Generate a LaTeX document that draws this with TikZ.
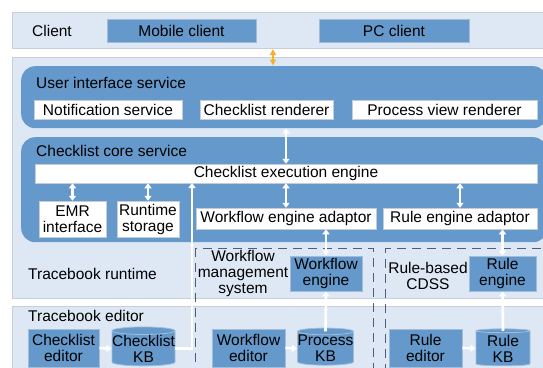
\documentclass[tikz,border=0pt]{standalone}
\usepackage{fontspec}
\setmainfont{Liberation Sans}
\usetikzlibrary{shapes.geometric,arrows.meta,calc}

\definecolor{bandfill}{HTML}{DEE8F4}
\definecolor{bandline}{HTML}{C8CFDA}
\definecolor{serviceblue}{HTML}{6599CC}
\definecolor{boxline}{HTML}{A3BDD9}
\definecolor{whiteline}{HTML}{C4CCD8}
\definecolor{dashline}{HTML}{4D5D7D}
\definecolor{orangetip}{HTML}{F5B030}

\tikzset{
	band/.style={draw=bandline, fill=bandfill, line width=0.8pt, anchor=north west, inner sep=0pt},
	service/.style={fill=serviceblue, rounded corners=14pt, anchor=north west, inner sep=0pt},
	bluebox/.style={fill=serviceblue, draw=boxline, line width=0.8pt, inner sep=0pt, align=center},
	whitebox/.style={fill=white, draw=whiteline, line width=0.5pt, inner sep=0pt, align=center},
	kb/.style={cylinder, shape border rotate=90, aspect=0.12, fill=serviceblue, draw=boxline, line width=0.8pt, inner sep=0pt, align=center},
	frame/.style={draw=dashline, line width=1.2pt, dash pattern=on 9pt off 6pt, anchor=north west, inner sep=0pt},
	lbl/.style={inner sep=0pt, align=center},
	dbl/.style={white, line width=2.6pt, {Triangle[width=7pt,length=5pt]}-{Triangle[width=7pt,length=5pt]}},
	arr/.style={white, line width=2.6pt, -{Triangle[width=7pt,length=5pt]}},
	orangearr/.style={orangetip, line width=2pt, {Triangle[width=6pt,length=6pt]}-{Triangle[width=6pt,length=6pt]}}
}

\begin{document}
\begin{tikzpicture}[x=1pt, y=-1pt, font=\fontsize{15.5}{16}\selectfont]
	\useasboundingbox (0,0) rectangle (543,367);
	\clip (0,0) rectangle (543,367);
	
	% layers
	\node[band, minimum width=548pt, minimum height=36pt] (clientband) at (12,12) {};
	\node[band, minimum width=548pt, minimum height=241pt] (runtime) at (12,57) {};
	\node[band, minimum width=548pt, minimum height=80pt] (editor) at (12,306) {};
	\node[lbl, anchor=west] (runtimelbl) at (28,274) {Tracebook runtime};
	\node[lbl, anchor=west] (editorlbl) at (28,316) {Tracebook editor};
	
	% external systems
	\node[frame, minimum width=178pt, minimum height=140pt] (wfms) at (195,248) {};
	\node[frame, minimum width=180pt, minimum height=140pt] (cdss) at (385,248) {};
	\node[lbl] (wfmslbl) at (243,273) {Workflow\\management\\system};
	\node[lbl] (cdsslbl) at (428,276) {Rule-based\\CDSS};
	
	% client
	\node[lbl] (clientlbl) at (52,30.5) {Client};
	\node[bluebox, minimum width=149pt, minimum height=23pt] (mobile) at (181.5,30.5) {Mobile client};
	\node[bluebox, minimum width=150pt, minimum height=23pt] (pc) at (394,30.5) {PC client};
	
	% user interface service
	\node[service, minimum width=526pt, minimum height=62pt] (ui) at (21,66) {};
	\node[lbl, anchor=west] (uilbl) at (36,83) {User interface service};
	\node[whitebox, minimum width=148pt, minimum height=19pt] (notif) at (108,109.5) {Notification service};
	\node[whitebox, minimum width=133pt, minimum height=19pt] (renderer) at (266.5,109.5) {Checklist renderer};
	\node[whitebox, minimum width=185pt, minimum height=19pt] (procview) at (444.5,109.5) {Process view renderer};
	
	% checklist core service
	\node[service, minimum width=526pt, minimum height=105pt] (core) at (21,137) {};
	\node[lbl, anchor=west] (corelbl) at (36,151) {Checklist core service};
	\node[whitebox, minimum width=502pt, minimum height=19pt] (engine) at (286,173.5) {Checklist execution engine};
	\node[whitebox, minimum width=67pt, minimum height=36pt] (emr) at (72.5,219) {EMR\\interface};
	\node[whitebox, minimum width=62pt, minimum height=36pt] (storage) at (148,219) {Runtime\\storage};
	\node[whitebox, minimum width=180pt, minimum height=21pt] (wfadaptor) at (286,218.5) {Workflow engine adaptor};
	\node[whitebox, minimum width=154pt, minimum height=21pt] (ruleadaptor) at (460,218.5) {Rule engine adaptor};
	
	% engines
	\node[bluebox, minimum width=72pt, minimum height=35pt] (wfengine) at (326,273.5) {Workflow\\engine};
	\node[bluebox, minimum width=67pt, minimum height=35pt] (ruleengine) at (502.5,273.5) {Rule\\engine};
	
	% editors and knowledge bases
	\node[bluebox, minimum width=71pt, minimum height=38pt] (cleditor) at (63.5,348) {Checklist\\editor};
	\node[kb, minimum width=63pt, minimum height=37pt] (clkb) at (143.5,348.5) {Checklist\\KB};
	\node[bluebox, minimum width=73pt, minimum height=38pt] (wfeditor) at (248.5,348) {Workflow\\editor};
	\node[kb, minimum width=55pt, minimum height=37pt] (processkb) at (325.5,348.5) {Process\\KB};
	\node[bluebox, minimum width=73pt, minimum height=38pt] (ruleeditor) at (425.5,348) {Rule\\editor};
	\node[kb, minimum width=54pt, minimum height=37pt] (rulekb) at (503,348.5) {Rule\\KB};
	
	% connectors
	\coordinate (o1) at (273,49);
	\coordinate (o2) at (273,65.5);
	\draw[orangearr] (o1) -- (o2);
	\draw[dbl] (ui.south -| wfadaptor.north) -- (engine.north -| wfadaptor.north);
	\draw[dbl] (emr.north) -- (emr.north |- engine.south);
	\draw[dbl] (storage.north) -- (storage.north |- engine.south);
	\draw[dbl] (wfadaptor.north) -- (wfadaptor.north |- engine.south);
	\draw[dbl] (ruleadaptor.north) -- (ruleadaptor.north |- engine.south);
	\draw[dbl] (wfengine.north) -- (wfengine.north |- wfadaptor.south);
	\draw[dbl] (ruleengine.north) -- (ruleengine.north |- ruleadaptor.south);
	\draw[arr] (processkb.north |- processkb.before top) -- (wfengine.south);
	\draw[arr] (rulekb.north |- rulekb.before top) -- (ruleengine.south);
	\draw[arr] (cleditor.east) -- (clkb.west);
	\draw[arr] (wfeditor.east) -- (processkb.west);
	\draw[arr] (ruleeditor.east) -- (rulekb.west);
	\coordinate (kbup) at (192,183);
	\draw[arr, line width=2.2pt] (clkb.east) -| (kbup);
\end{tikzpicture}
\end{document}
